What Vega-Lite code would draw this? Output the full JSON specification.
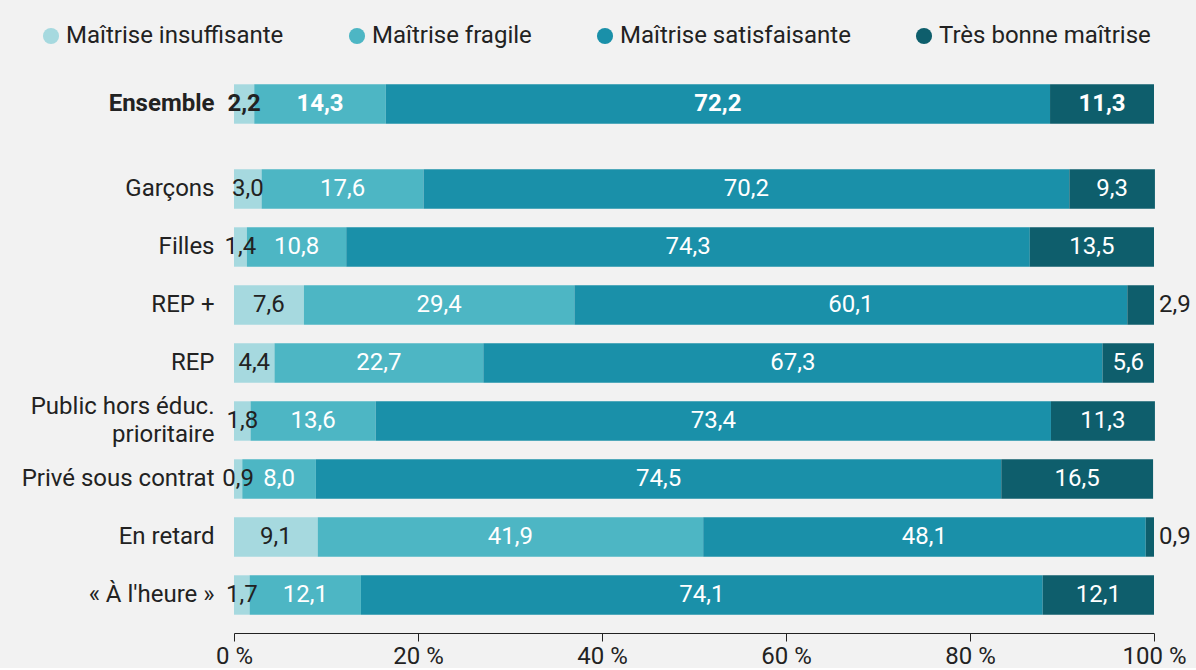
{
  "$schema": "https://vega.github.io/schema/vega-lite/v6.json",
  "background": "#f2f2f2",
  "padding": {"left": 21, "top": 24, "right": 5, "bottom": 0},
  "config": {"font": "Roboto", "view": {"stroke": null}, "concat": {"spacing": 27}},
  "data": {"values": [
    {"groupe": "Ensemble", "niveau": "Maîtrise insuffisante", "valeur": 2.2},
    {"groupe": "Ensemble", "niveau": "Maîtrise fragile", "valeur": 14.3},
    {"groupe": "Ensemble", "niveau": "Maîtrise satisfaisante", "valeur": 72.2},
    {"groupe": "Ensemble", "niveau": "Très bonne maîtrise", "valeur": 11.3},
    {"groupe": "Garçons", "niveau": "Maîtrise insuffisante", "valeur": 3.0},
    {"groupe": "Garçons", "niveau": "Maîtrise fragile", "valeur": 17.6},
    {"groupe": "Garçons", "niveau": "Maîtrise satisfaisante", "valeur": 70.2},
    {"groupe": "Garçons", "niveau": "Très bonne maîtrise", "valeur": 9.3},
    {"groupe": "Filles", "niveau": "Maîtrise insuffisante", "valeur": 1.4},
    {"groupe": "Filles", "niveau": "Maîtrise fragile", "valeur": 10.8},
    {"groupe": "Filles", "niveau": "Maîtrise satisfaisante", "valeur": 74.3},
    {"groupe": "Filles", "niveau": "Très bonne maîtrise", "valeur": 13.5},
    {"groupe": "REP +", "niveau": "Maîtrise insuffisante", "valeur": 7.6},
    {"groupe": "REP +", "niveau": "Maîtrise fragile", "valeur": 29.4},
    {"groupe": "REP +", "niveau": "Maîtrise satisfaisante", "valeur": 60.1},
    {"groupe": "REP +", "niveau": "Très bonne maîtrise", "valeur": 2.9},
    {"groupe": "REP", "niveau": "Maîtrise insuffisante", "valeur": 4.4},
    {"groupe": "REP", "niveau": "Maîtrise fragile", "valeur": 22.7},
    {"groupe": "REP", "niveau": "Maîtrise satisfaisante", "valeur": 67.3},
    {"groupe": "REP", "niveau": "Très bonne maîtrise", "valeur": 5.6},
    {"groupe": "Public hors éduc. prioritaire", "niveau": "Maîtrise insuffisante", "valeur": 1.8},
    {"groupe": "Public hors éduc. prioritaire", "niveau": "Maîtrise fragile", "valeur": 13.6},
    {"groupe": "Public hors éduc. prioritaire", "niveau": "Maîtrise satisfaisante", "valeur": 73.4},
    {"groupe": "Public hors éduc. prioritaire", "niveau": "Très bonne maîtrise", "valeur": 11.3},
    {"groupe": "Privé sous contrat", "niveau": "Maîtrise insuffisante", "valeur": 0.9},
    {"groupe": "Privé sous contrat", "niveau": "Maîtrise fragile", "valeur": 8.0},
    {"groupe": "Privé sous contrat", "niveau": "Maîtrise satisfaisante", "valeur": 74.5},
    {"groupe": "Privé sous contrat", "niveau": "Très bonne maîtrise", "valeur": 16.5},
    {"groupe": "En retard", "niveau": "Maîtrise insuffisante", "valeur": 9.1},
    {"groupe": "En retard", "niveau": "Maîtrise fragile", "valeur": 41.9},
    {"groupe": "En retard", "niveau": "Maîtrise satisfaisante", "valeur": 48.1},
    {"groupe": "En retard", "niveau": "Très bonne maîtrise", "valeur": 0.9},
    {"groupe": "« À l'heure »", "niveau": "Maîtrise insuffisante", "valeur": 1.7},
    {"groupe": "« À l'heure »", "niveau": "Maîtrise fragile", "valeur": 12.1},
    {"groupe": "« À l'heure »", "niveau": "Maîtrise satisfaisante", "valeur": 74.1},
    {"groupe": "« À l'heure »", "niveau": "Très bonne maîtrise", "valeur": 12.1}
  ]},
  "transform": [
    {"calculate": "indexof(['Maîtrise insuffisante','Maîtrise fragile','Maîtrise satisfaisante','Très bonne maîtrise'], datum.niveau)", "as": "k"},
    {"stack": "valeur", "groupby": ["groupe"], "sort": [{"field": "k", "order": "ascending"}], "as": ["x0", "x1"]},
    {"calculate": "(datum.x0 + datum.x1) / 2", "as": "xm"},
    {"calculate": "replace(format(datum.valeur, '.1f'), '.', ',')", "as": "lab"},
    {"calculate": "datum.k == 3 && datum.valeur < 4 ? 'out' : 'in'", "as": "pos"}
  ],
  "resolve": {"scale": {"x": "shared", "color": "shared"}},
  "vconcat": [
    {
      "width": 920,
      "height": 58,
      "transform": [{"filter": "datum.groupe == 'Ensemble'"}],
      "encoding": {
        "y": {"field": "groupe", "type": "nominal", "title": null,
              "scale": {"paddingInner": 0.32, "paddingOuter": 0.16},
              "axis": {"ticks": false, "domain": false, "labelFontSize": 24, "labelFontWeight": "bold", "labelColor": "#222", "labelPadding": 20, "labelLimit": 0}}
      },
      "layer": [
        {
          "mark": {"type": "bar"},
          "encoding": {
            "x": {"field": "x0", "type": "quantitative", "scale": {"domain": [0, 100]}, "axis": null},
            "x2": {"field": "x1"},
            "color": {"field": "niveau", "type": "nominal",
              "scale": {"domain": ["Maîtrise insuffisante", "Maîtrise fragile", "Maîtrise satisfaisante", "Très bonne maîtrise"], "range": ["#a6d9df", "#4db6c4", "#1a90a9", "#0e5e6c"]},
              "legend": {"orient": "none", "legendX": -195, "legendY": -51, "direction": "horizontal", "title": null, "symbolType": "circle", "symbolSize": 260, "symbolStrokeWidth": 0, "labelFontSize": 24, "labelColor": "#222", "columnPadding": 61, "labelOffset": 3, "labelLimit": 0}}
          }
        },
        {
          "transform": [{"filter": "datum.pos == 'in'"}],
          "mark": {"type": "text", "fontSize": 24, "fontWeight": "bold"},
          "encoding": {
            "x": {"field": "xm", "type": "quantitative"},
            "text": {"field": "lab"},
            "color": {"condition": {"test": "datum.k == 0", "value": "#222"}, "value": "white"}
          }
        }
      ]
    },
    {
      "width": 920,
      "height": 464,
      "transform": [{"filter": "datum.groupe != 'Ensemble'"}],
      "encoding": {
        "y": {"field": "groupe", "type": "nominal", "title": null,
              "sort": ["Garçons", "Filles", "REP +", "REP", "Public hors éduc. prioritaire", "Privé sous contrat", "En retard", "« À l'heure »"],
              "scale": {"paddingInner": 0.32, "paddingOuter": 0.16},
              "axis": {"ticks": false, "domain": false, "labelFontSize": 24, "labelColor": "#222", "labelPadding": 20, "labelLimit": 0,
                       "labelExpr": "datum.label == 'Public hors éduc. prioritaire' ? ['Public hors éduc.', 'prioritaire'] : datum.label", "labelLineHeight": 28,
                       "labelOffset": {"condition": {"test": "datum.value == 'Public hors éduc. prioritaire'", "value": -14}, "value": 0}}}
      },
      "layer": [
        {
          "mark": {"type": "bar"},
          "encoding": {
            "x": {"field": "x0", "type": "quantitative", "scale": {"domain": [0, 100]},
                  "axis": {"values": [0, 20, 40, 60, 80, 100], "labelExpr": "datum.value + ' %'", "title": null, "grid": false, "offset": 9,
                           "domainColor": "#222", "tickColor": "#222", "tickSize": 8, "labelFontSize": 24, "labelColor": "#222", "labelPadding": 3, "labelFlush": false}},
            "x2": {"field": "x1"},
            "color": {"field": "niveau", "type": "nominal",
              "scale": {"domain": ["Maîtrise insuffisante", "Maîtrise fragile", "Maîtrise satisfaisante", "Très bonne maîtrise"], "range": ["#a6d9df", "#4db6c4", "#1a90a9", "#0e5e6c"]},
              "legend": {"orient": "none", "legendX": -195, "legendY": -51, "direction": "horizontal", "title": null, "symbolType": "circle", "symbolSize": 260, "symbolStrokeWidth": 0, "labelFontSize": 24, "labelColor": "#222", "columnPadding": 61, "labelOffset": 3, "labelLimit": 0}}
          }
        },
        {
          "transform": [{"filter": "datum.pos == 'in'"}],
          "mark": {"type": "text", "fontSize": 24},
          "encoding": {
            "x": {"field": "xm", "type": "quantitative"},
            "text": {"field": "lab"},
            "color": {"condition": {"test": "datum.k == 0", "value": "#222"}, "value": "white"}
          }
        },
        {
          "transform": [{"filter": "datum.pos == 'out'"}],
          "mark": {"type": "text", "fontSize": 24, "align": "left", "dx": 5, "color": "#222"},
          "encoding": {
            "x": {"field": "x1", "type": "quantitative"},
            "text": {"field": "lab"}
          }
        }
      ]
    }
  ]
}
